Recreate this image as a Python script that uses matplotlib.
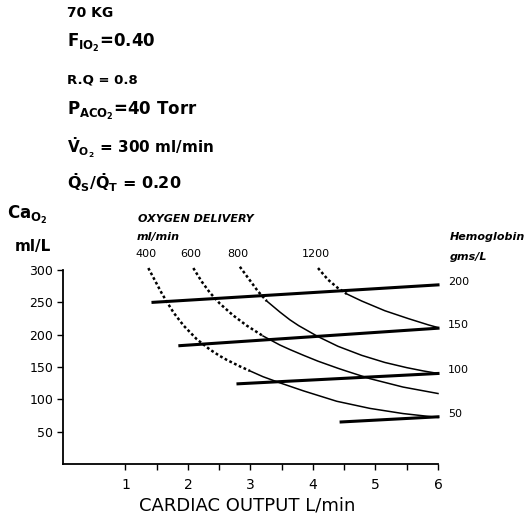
import matplotlib
matplotlib.use("Agg")
import matplotlib.pyplot as plt

plt.rcParams['font.family'] = ['DejaVu Sans']
plt.rcParams['mathtext.default'] = 'bf'

# oxygen delivery curves (ml/min)
delivery_labels = ['400', '600', '800', '1200']
co_curves = [
    [1.365, 1.47, 1.58, 1.66, 1.77, 1.93, 2.14, 2.35, 2.51, 2.62, 2.83, 2.99,
     3.2, 3.47, 3.85, 4.38, 4.91, 5.44, 6.0],
    [2.085, 2.22, 2.35, 2.51, 2.72, 2.94, 3.2, 3.47, 3.63, 3.85, 4.08, 4.4,
     4.54, 4.91, 5.44, 6.0],
    [2.83, 2.99, 3.12, 3.26, 3.47, 3.63, 3.77, 4.08, 4.4, 4.78, 5.15, 5.5,
     5.76, 6.0],
    [4.08, 4.24, 4.4, 4.54, 4.78, 5.15, 5.52, 5.85, 6.0],
]
ca_curves = [
    [303, 284, 264, 251, 234, 214, 193, 177, 167, 161, 151, 144,
     135, 125.5, 113, 97, 86, 78, 72],
    [303, 282, 265, 248, 230, 214, 198, 184, 177, 168, 159, 148,
     143.5, 132, 119, 109],
    [305, 284, 267, 252, 235, 223, 214, 197, 182, 168, 157, 149,
     144, 140],
    [303, 285, 272, 263, 252, 237, 225, 215, 211],
]
# how many points of each curve are drawn dotted (the rest is a thin line)
dotted_points = [12, 7, 4, 4]

# hemoglobin lines (gms/L)
hb_labels = ['200', '150', '100', '50']
hb_co_start = [1.44, 1.87, 2.8, 4.45]
hb_ca_start = [250, 183, 124, 65]
hb_co_end = [6.0, 6.0, 6.0, 6.0]
hb_ca_end = [277, 210, 140, 73]

conditions = [
    ('70 KG', 10),
    (r'$F_{IO_2}$=0.40', 12),
    ('R.Q = 0.8', 9.5),
    (r'$P_{ACO_2}$=40 Torr', 12),
    (r'$\dot{V}_{O_2}$ = 300 ml/min', 11),
    (r'$\dot{Q}_S/\dot{Q}_T$ = 0.20', 11.5),
]
cond_y = [13, 43, 80, 111, 148, 183]

W, H = 530, 518
fig = plt.figure(figsize=(W / 100, H / 100), dpi=100)
ax = fig.add_axes([63 / W, 1 - 464 / H, 375 / W, 194 / H])

for co, ca, n in zip(co_curves, ca_curves, dotted_points):
    ax.plot(co[n - 1:], ca[n - 1:], color='black', lw=1.1, clip_on=False)
    ax.plot(co[:n], ca[:n], color='black', lw=1.8, linestyle=(0, (1.1, 1.0)),
            clip_on=False)

for x0, y0, x1, y1 in zip(hb_co_start, hb_ca_start, hb_co_end, hb_ca_end):
    ax.plot([x0, x1], [y0, y1], color='black', lw=2.2, clip_on=False)

for lab, co in zip(delivery_labels, co_curves):
    ax.text(co[0] - 0.04, 325, lab, ha='center', va='center', fontsize=8,
            clip_on=False)
for lab, x, y in zip(hb_labels, hb_co_end, hb_ca_end):
    ax.text(x + 0.16, y + 5, lab, ha='left', va='center', fontsize=8,
            clip_on=False)

ax.set_xlim(0, 6)
ax.set_ylim(0, 300)
ax.spines['top'].set_visible(False)
ax.spines['right'].set_visible(False)
ax.spines['left'].set_linewidth(1.3)
ax.spines['bottom'].set_linewidth(1.3)
ax.set_xticks([1, 2, 3, 4, 5, 6])
ax.set_xticks([1.5, 2.5, 3.5, 4.5, 5.5], minor=True)
ax.set_yticks([50, 100, 150, 200, 250, 300])
ax.tick_params(axis='x', labelsize=10, length=4, width=1, pad=6)
ax.tick_params(axis='x', which='minor', length=4, width=1)
ax.tick_params(axis='y', labelsize=9, length=4, width=1, pad=3)

fig.text(247 / W, 1 - 506 / H, 'CARDIAC OUTPUT L/min', fontsize=13,
         ha='center', va='center')

for (txt, fs), y in zip(conditions, cond_y):
    fig.text(67 / W, 1 - y / H, txt, fontsize=fs, fontweight='bold',
             ha='left', va='center')

fig.text(7 / W, 1 - 215 / H, r'Ca$_{O_2}$', fontsize=12, fontweight='bold',
         ha='left', va='center')
fig.text(15 / W, 1 - 247 / H, 'ml/L', fontsize=11, fontweight='bold',
         ha='left', va='center')
fig.text(138 / W, 1 - 219 / H, 'OXYGEN DELIVERY', fontsize=8, style='italic',
         fontweight='bold', ha='left', va='center')
fig.text(137 / W, 1 - 237 / H, 'ml/min', fontsize=8, style='italic',
         fontweight='bold', ha='left', va='center')
fig.text(450 / W, 1 - 237 / H, 'Hemoglobin', fontsize=8, style='italic',
         fontweight='bold', ha='left', va='center')
fig.text(450 / W, 1 - 257 / H, 'gms/L', fontsize=8, style='italic',
         fontweight='bold', ha='left', va='center')

fig.savefig('out.png', dpi=100)
